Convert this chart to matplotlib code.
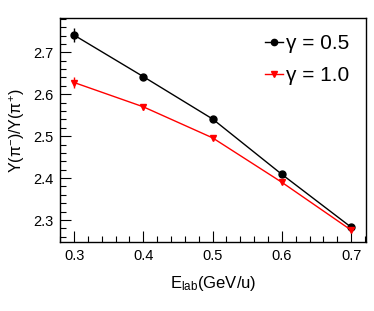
import numpy as np
import matplotlib
matplotlib.use("Agg")
import matplotlib.pyplot as plt
from matplotlib.ticker import MultipleLocator
from matplotlib.lines import Line2D

plt.rcParams['font.family'] = ['Liberation Sans', 'DejaVu Sans']
plt.rcParams['mathtext.fontset'] = 'custom'
plt.rcParams['mathtext.rm'] = 'Liberation Sans'
plt.rcParams['mathtext.it'] = 'Liberation Sans:italic'

# datos
e_lab = [0.3, 0.4, 0.5, 0.6, 0.7]
ratio_g05 = [2.741, 2.642, 2.541, 2.409, 2.283]
err_g05 = [0.016, 0.007, 0.004, 0.004, 0.003]
ratio_g10 = [2.628, 2.570, 2.496, 2.390, 2.276]
err_g10 = [0.014, 0.007, 0.004, 0.004, 0.003]
etiquetas = ['γ = 0.5', 'γ = 1.0']

fig = plt.figure(figsize=(3.74, 3.11), dpi=100)
ax = fig.add_axes([0.161, 0.221, 0.818, 0.720])

ax.errorbar(e_lab, ratio_g05, yerr=err_g05, color='black', marker='o',
            markersize=5, linewidth=1, elinewidth=1, capsize=0)
ax.errorbar(e_lab, ratio_g10, yerr=err_g10, color='#ff0000', marker='v',
            markersize=5, linewidth=1, elinewidth=1, capsize=0)

ax.set_xlim(0.28, 0.7217)
ax.set_ylim(2.247, 2.781)

ax.xaxis.set_major_locator(MultipleLocator(0.1))
ax.xaxis.set_minor_locator(MultipleLocator(0.02))
ax.yaxis.set_major_locator(MultipleLocator(0.1))
ax.yaxis.set_minor_locator(MultipleLocator(0.02))
ax.tick_params(which='both', direction='in', top=False, right=False,
               width=0.8, labelsize=10.5)
ax.tick_params(which='major', length=8, pad=5)
ax.tick_params(which='minor', length=4)
for s in ax.spines.values():
    s.set_linewidth(1)

ax.set_xlabel(r'E$_{\mathrm{lab}}$(GeV/u)', fontsize=12, labelpad=8)
ax.set_ylabel(r'Y(π$^{-}$)/Y(π$^{+}$)', fontsize=11.5, labelpad=4)

# leyenda sin barras de error
h1 = Line2D([], [], color='black', marker='o', markersize=4.5, linewidth=1)
h2 = Line2D([], [], color='#ff0000', marker='v', markersize=4.5, linewidth=1)
ax.legend([h1, h2], etiquetas, loc='upper left', bbox_to_anchor=(0.67, 0.93),
          frameon=False, fontsize=15, handlelength=0.87, handletextpad=0.15,
          labelspacing=0.62, borderpad=0, borderaxespad=0)

fig.savefig('out.png', dpi=100)
